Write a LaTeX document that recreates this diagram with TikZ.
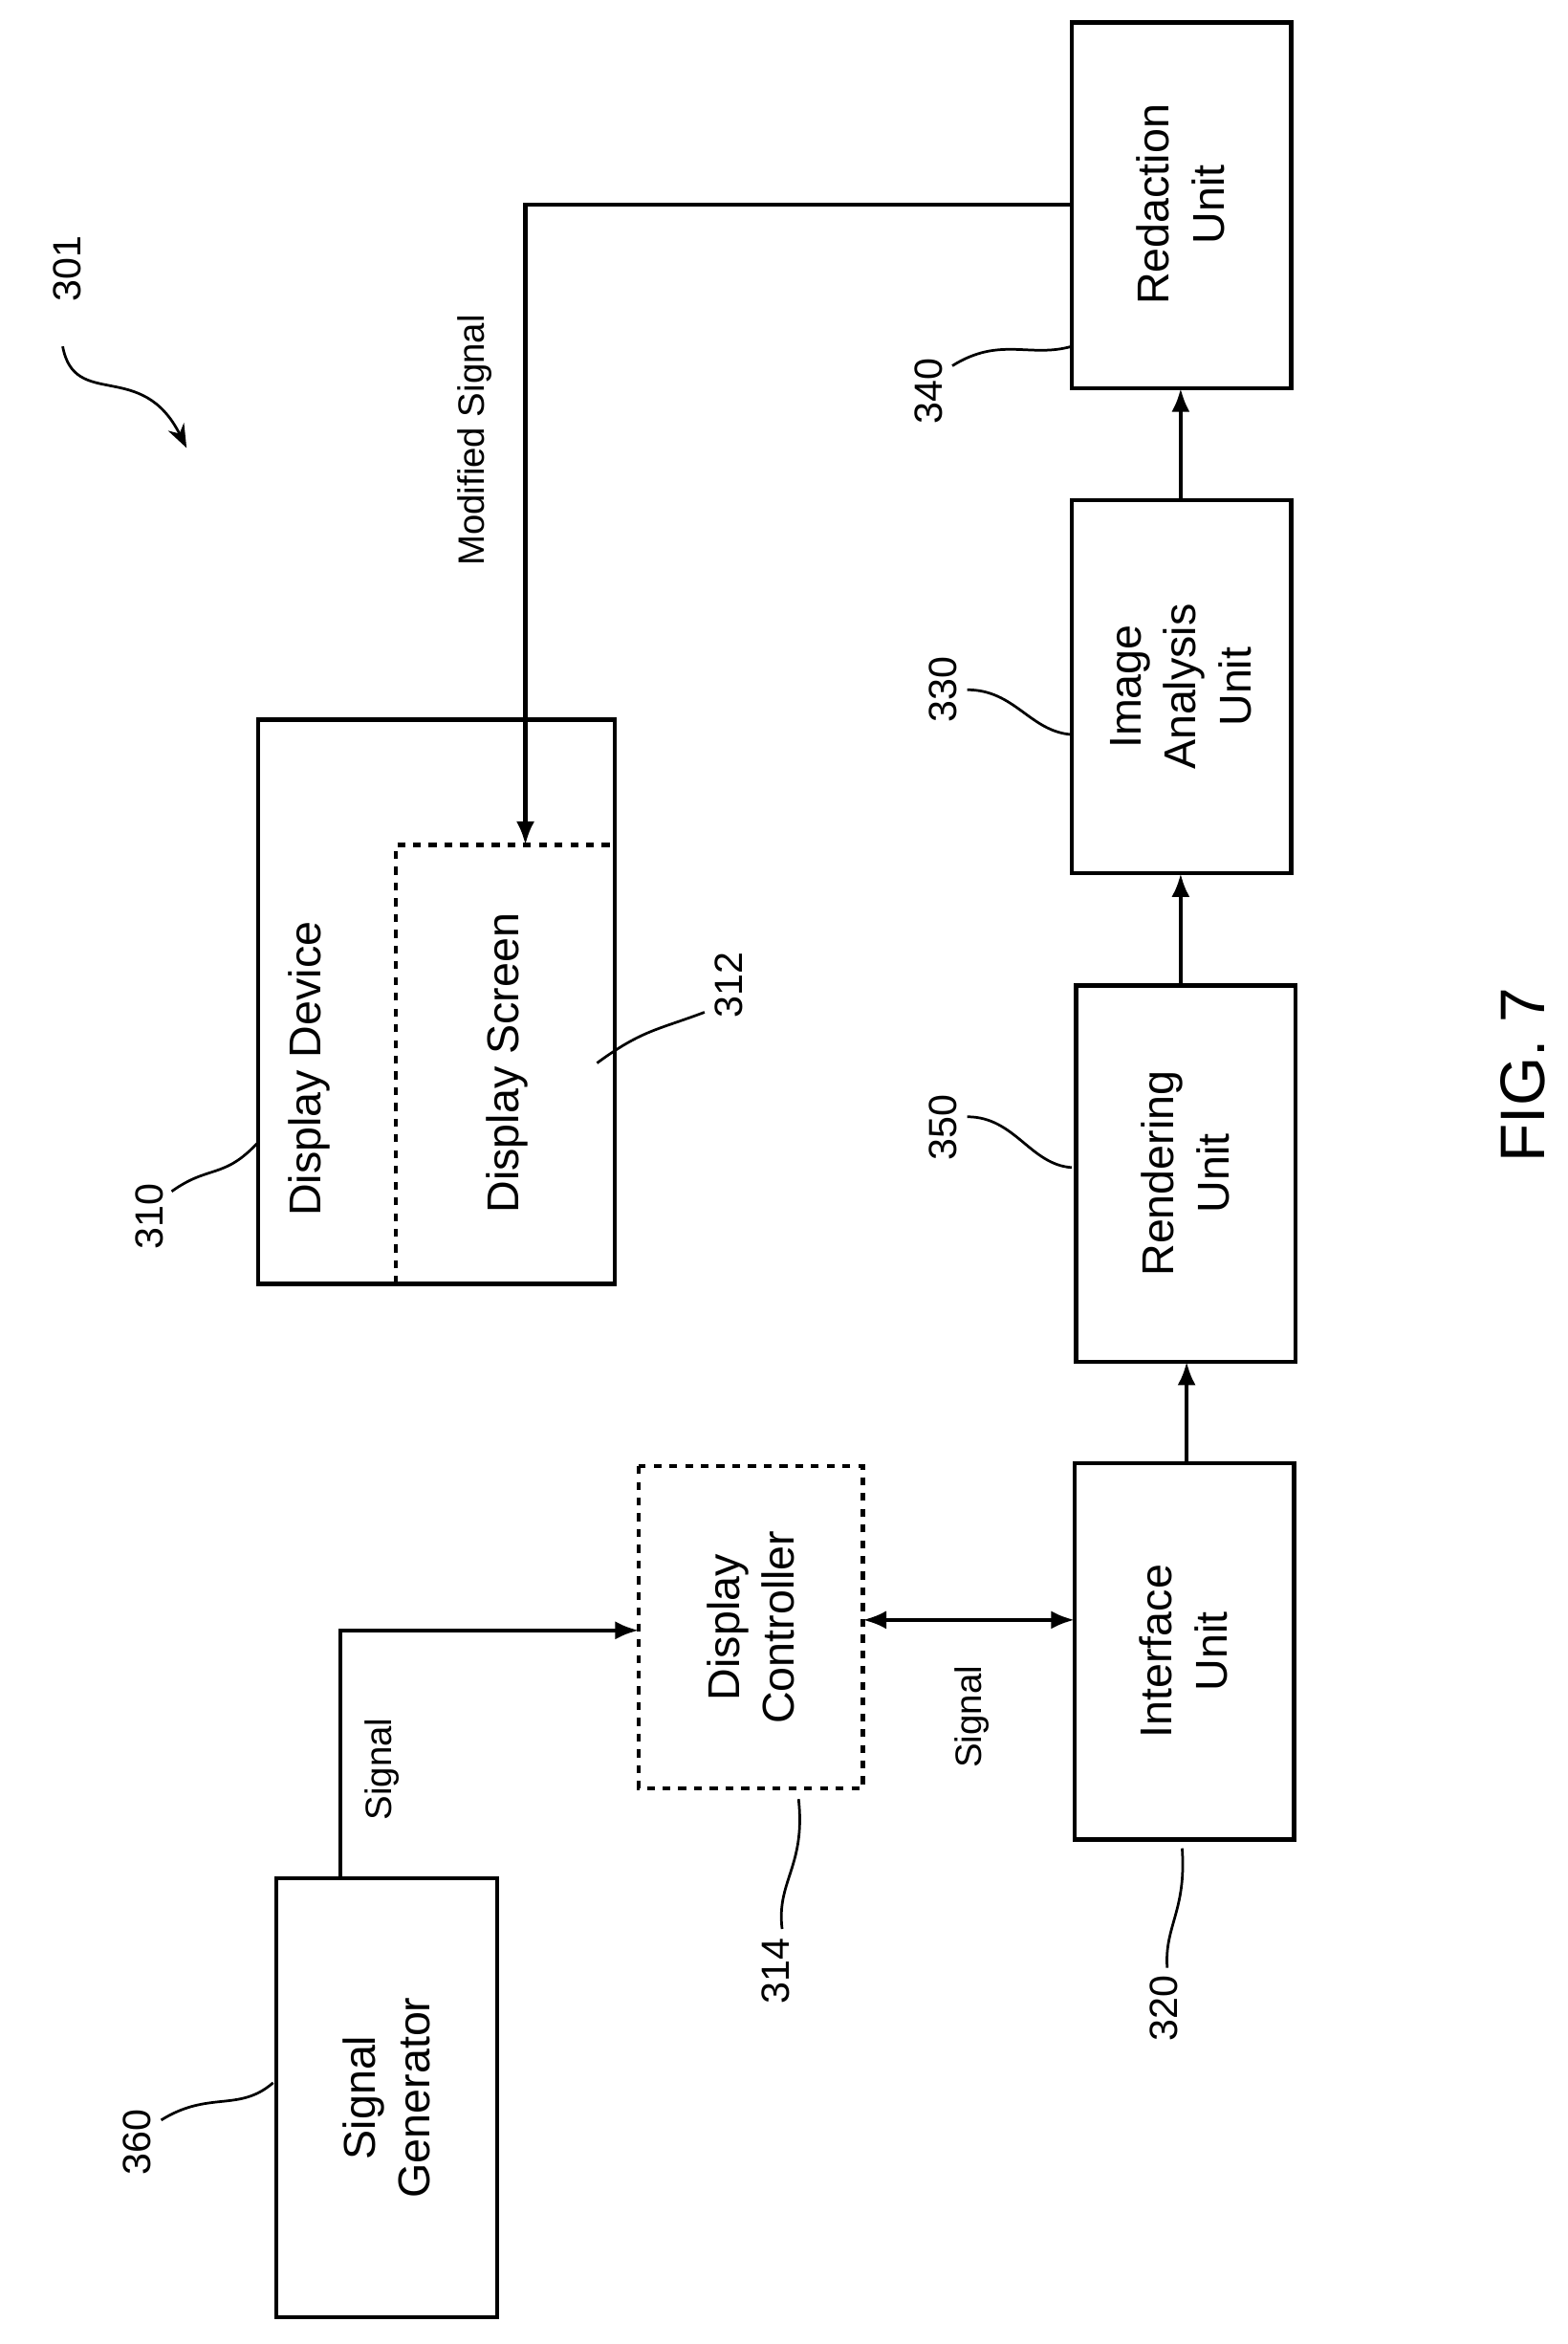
\documentclass[tikz,border=0pt]{standalone}
\usepackage{fontspec}
\setmainfont{Liberation Sans}
\usetikzlibrary{arrows.meta}
\begin{document}
\begin{tikzpicture}[x=0.02cm,y=-0.02cm,
  box/.style={draw,line width=1.6pt},
  txt/.style={rotate=90,align=center,font=\fontsize{17}{21}\selectfont},
  lbl/.style={rotate=90,font=\fontsize{14}{16}\selectfont},
  ref/.style={rotate=90,font=\fontsize{15}{18}\selectfont},
  arr/.style={line width=1.6pt,-{Latex[length=9pt,width=7pt]}},
  lead/.style={line width=1pt}]
\useasboundingbox (0,0) rectangle (1050,1570);
% blocks
\draw[box] (718,15) rectangle (865,260);
\node[txt] (red) at (791,137) {Redaction\\Unit};
\draw[box] (718,335) rectangle (865,585);
\node[txt] (ima) at (791,460) {Image\\Analysis\\Unit};
\draw[box] (721,660) rectangle (868,912);
\node[txt] (ren) at (794,786) {Rendering\\Unit};
\draw[box] (720,980) rectangle (867,1232);
\node[txt] (itf) at (793,1106) {Interface\\Unit};
\draw[box] (173,482) rectangle (412,860);
\draw[line width=1.6pt,dashed] (265,860) -- (265,566) -- (412,566);
\node[txt] (dev) at (207,716) {Display Device};
\node[txt] (scr) at (340,712) {Display Screen};
\draw[box,dashed] (428,982) rectangle (578,1198);
\node[txt] (ctl) at (503,1090) {Display\\Controller};
\draw[box] (185,1258) rectangle (333,1552);
\node[txt] (gen) at (259,1405) {Signal\\Generator};
% connectors
\coordinate (c1) at (352,137);
\coordinate (c2) at (228,1092);
\draw[arr] (795,980) -- (795,912);
\draw[arr] (791,660) -- (791,585);
\draw[arr] (791,335) -- (791,260);
\draw[arr] (718,137) -- (c1) -- (352,566);
\draw[arr] (228,1258) -- (c2) -- (428,1092);
\draw[arr,{Latex[length=9pt,width=7pt]}-{Latex[length=9pt,width=7pt]}] (578,1085) -- (720,1085);
\node[lbl] at (318,295) {Modified Signal};
\node[lbl] at (256,1185) {Signal};
\node[lbl] at (651,1150) {Signal};
% reference numerals
\node[ref] (n301) at (45,180) {301};
\draw[lead,-{Stealth[length=9pt]}] (42,232) .. controls (50,275) and (95,240) .. (125,300);
\node[ref] (n340) at (622,262) {340};
\draw[lead] (638,245) .. controls (670,225) and (690,240) .. (718,232);
\node[ref] (n330) at (632,462) {330};
\draw[lead] (648,462) .. controls (680,462) and (690,490) .. (718,492);
\node[ref] (n350) at (632,755) {350};
\draw[lead] (648,748) .. controls (680,748) and (690,780) .. (718,782);
\node[ref] (n310) at (100,815) {310};
\draw[lead] (115,798) .. controls (140,780) and (150,790) .. (173,765);
\node[ref] (n312) at (488,660) {312};
\draw[lead] (400,712) .. controls (430,690) and (440,690) .. (472,678);
\node[ref] (n314) at (520,1320) {314};
\draw[lead] (535,1205) .. controls (540,1250) and (520,1260) .. (524,1292);
\node[ref] (n320) at (780,1345) {320};
\draw[lead] (792,1238) .. controls (795,1280) and (780,1290) .. (782,1318);
\node[ref] (n360) at (92,1435) {360};
\draw[lead] (108,1420) .. controls (140,1400) and (160,1415) .. (183,1395);
\node[rotate=90,font=\fontsize{24}{28}\selectfont] (fig) at (1020,720) {FIG. 7};
\end{tikzpicture}
\end{document}
